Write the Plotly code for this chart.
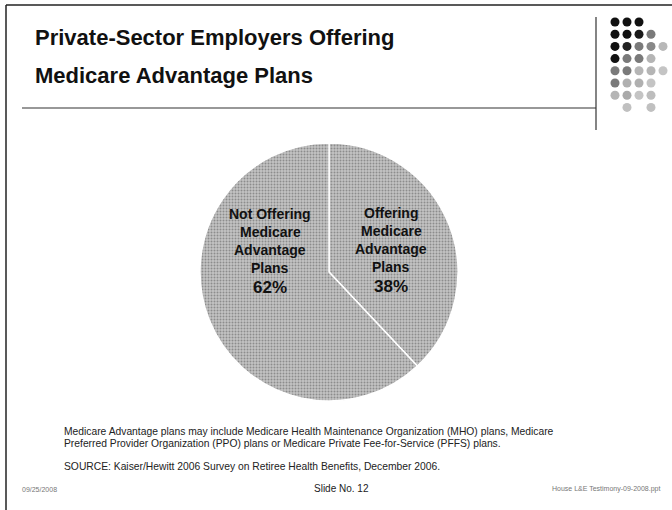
import plotly.graph_objects as go

W, H = 672, 510

# Chart data
categories = ["Offering Medicare Advantage Plans", "Not Offering Medicare Advantage Plans"]
label_lines = [["Offering", "Medicare", "Advantage", "Plans"],
               ["Not Offering", "Medicare", "Advantage", "Plans"]]
shares = [38, 62]

title_lines = ["Private-Sector Employers Offering", "Medicare Advantage Plans"]
note_lines = [
    "Medicare Advantage plans may include Medicare Health Maintenance Organization (MHO) plans, Medicare",
    "Preferred Provider Organization (PPO) plans or Medicare Private Fee-for-Service (PFFS) plans.",
]
source_text = "SOURCE: Kaiser/Hewitt 2006 Survey on Retiree Health Benefits, December 2006."
footer_left = "09/25/2008"
footer_center = "Slide No. 12"
footer_right = "House L&E Testimony-09-2008.ppt"


def px(x):
    return x / W


def py(y):
    return 1 - y / H


cx, cy, r = 329, 272, 129

fig = go.Figure()
fig.add_trace(go.Pie(
    labels=categories,
    values=shares,
    sort=False,
    direction="clockwise",
    rotation=0,
    textinfo="none",
    hoverinfo="label+percent",
    showlegend=False,
    marker=dict(
        colors=["#b4b4b4", "#b4b4b4"],
        line=dict(color="white", width=1.5),
        pattern=dict(shape=".", bgcolor="#c4c4c4", fgcolor="#8c8c8c",
                     size=3, solidity=0.35, fillmode="replace"),
    ),
    domain=dict(x=[px(cx - r), px(cx + r)], y=[py(cy + r), py(cy - r)]),
))

annotations = []
font_title = dict(family="Liberation Sans, Arial, sans-serif", size=22, color="#111111")
for i, line in enumerate(title_lines):
    annotations.append(dict(text=f"<b>{line}</b>", x=px(33), y=py(38 + 37 * i),
                            xanchor="left", yanchor="middle", showarrow=False, font=font_title))

# Slice labels with their percentages
label_centers = [(391, 213), (270, 214)]
lab_font = dict(family="Liberation Sans, Arial, sans-serif", size=14, color="#111111")
pct_font = dict(family="Liberation Sans, Arial, sans-serif", size=17, color="#111111")
for (lx, ly), lines, val in zip(label_centers, label_lines, shares):
    for j, t in enumerate(lines):
        annotations.append(dict(text=f"<b>{t}</b>", x=px(lx), y=py(ly + 18 * j),
                                xanchor="center", yanchor="middle", showarrow=False, font=lab_font))
    annotations.append(dict(text=f"<b>{val}%</b>", x=px(lx), y=py(ly + 18 * 4 + 1),
                            xanchor="center", yanchor="middle", showarrow=False, font=pct_font))

note_font = dict(family="Liberation Sans, Arial, sans-serif", size=10.3, color="#222222")
for i, line in enumerate(note_lines):
    annotations.append(dict(text=line, x=px(62), y=py(431 + 12 * i), xanchor="left",
                            yanchor="middle", showarrow=False, font=note_font))
annotations.append(dict(text=source_text, x=px(62), y=py(466), xanchor="left",
                        yanchor="middle", showarrow=False, font=note_font))

small_font = dict(family="Liberation Sans, Arial, sans-serif", size=7, color="#777777")
annotations.append(dict(text=footer_left, x=px(20), y=py(489), xanchor="left",
                        yanchor="middle", showarrow=False, font=small_font))
annotations.append(dict(text=footer_right, x=px(662), y=py(489), xanchor="right",
                        yanchor="middle", showarrow=False, font=small_font))
annotations.append(dict(text=footer_center, x=px(341), y=py(488), xanchor="center",
                        yanchor="middle", showarrow=False,
                        font=dict(family="Liberation Sans, Arial, sans-serif", size=10, color="#222222")))

shapes = []
line_style = dict(color="#222222", width=1.5)
# Slide frame
shapes.append(dict(type="line", xref="paper", yref="paper", x0=px(6), x1=px(6), y0=py(5), y1=py(510), line=line_style))
shapes.append(dict(type="line", xref="paper", yref="paper", x0=px(6), x1=px(672), y0=py(5), y1=py(5), line=line_style))
# Title rule and side rule
shapes.append(dict(type="line", xref="paper", yref="paper", x0=px(22), x1=px(596), y0=py(108), y1=py(108),
                   line=dict(color="#333333", width=1.2)))
shapes.append(dict(type="line", xref="paper", yref="paper", x0=px(596), x1=px(596), y0=py(17), y1=py(130),
                   line=dict(color="#333333", width=1.2)))

# Dotted corner ornament: rows of (column, shade)
ornament = [
    [(0, "#111111"), (1, "#111111"), (2, "#111111")],
    [(0, "#111111"), (1, "#111111"), (2, "#1a1a1a"), (3, "#7a7a7a")],
    [(0, "#111111"), (1, "#222222"), (2, "#7a7a7a"), (3, "#888888"), (4, "#b8b8b8")],
    [(0, "#111111"), (1, "#7a7a7a"), (2, "#7a7a7a"), (3, "#b5b5b5")],
    [(0, "#7a7a7a"), (1, "#7a7a7a"), (2, "#b5b5b5"), (3, "#b5b5b5"), (4, "#c4c4c4")],
    [(0, "#7a7a7a"), (1, "#b0b0b0"), (2, "#b0b0b0"), (3, "#c4c4c4")],
    [(0, "#b5b5b5"), (1, "#aaaaaa"), (2, "#c4c4c4"), (3, "#bdbdbd")],
    [(1, "#c0c0c0"), (3, "#c0c0c0")],
]
for ri, row in enumerate(ornament):
    yc = 22 + 12.2 * ri
    for ci, shade in row:
        xc = 615 + 12 * ci
        shapes.append(dict(type="circle", xref="paper", yref="paper",
                           x0=px(xc - 4.5), x1=px(xc + 4.5), y0=py(yc + 4.5), y1=py(yc - 4.5),
                           fillcolor=shade, line=dict(width=0)))

fig.update_layout(
    width=W, height=H,
    margin=dict(l=0, r=0, t=0, b=0),
    paper_bgcolor="white",
    plot_bgcolor="white",
    annotations=annotations,
    shapes=shapes,
)

fig.write_html("out.html")
